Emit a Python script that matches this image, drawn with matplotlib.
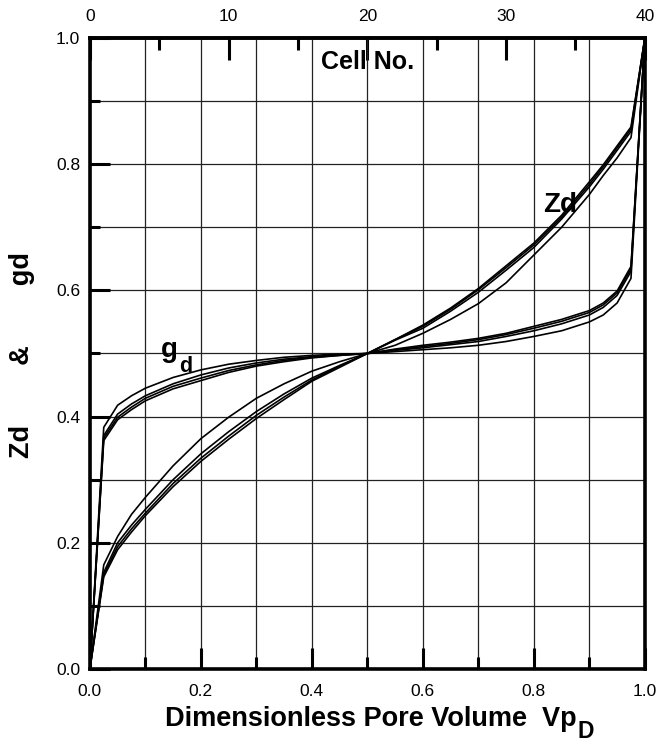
import matplotlib
matplotlib.use('Agg')
import matplotlib.pyplot as plt
from matplotlib.ticker import MultipleLocator

plt.rcParams['font.family'] = ['Liberation Sans', 'DejaVu Sans']

# dimensionless pore volume
vp = [0, 0.025, 0.05, 0.075, 0.1, 0.15, 0.2, 0.25, 0.3, 0.35, 0.4, 0.45, 0.5,
      0.55, 0.6, 0.65, 0.7, 0.75, 0.8, 0.85, 0.9, 0.925, 0.95, 0.975, 1.0]

zd_1 = [0, 0.165, 0.210, 0.245, 0.272, 0.322, 0.365, 0.399, 0.429, 0.452, 0.472, 0.487, 0.5,
        0.513, 0.532, 0.554, 0.579, 0.612, 0.656, 0.700, 0.752, 0.782, 0.810, 0.842, 1.0]
zd_2 = [0, 0.153, 0.200, 0.228, 0.253, 0.300, 0.341, 0.376, 0.408, 0.436, 0.461, 0.481, 0.5,
        0.521, 0.540, 0.567, 0.597, 0.632, 0.668, 0.713, 0.764, 0.792, 0.822, 0.852, 1.0]
zd_3 = [0, 0.149, 0.194, 0.222, 0.247, 0.294, 0.334, 0.369, 0.402, 0.431, 0.458, 0.480, 0.5,
        0.522, 0.543, 0.570, 0.601, 0.636, 0.672, 0.716, 0.768, 0.796, 0.826, 0.856, 1.0]
zd_4 = [0, 0.146, 0.189, 0.217, 0.243, 0.289, 0.329, 0.364, 0.397, 0.427, 0.456, 0.478, 0.5,
        0.522, 0.545, 0.572, 0.603, 0.639, 0.675, 0.719, 0.772, 0.799, 0.829, 0.859, 1.0]

gd_1 = [0, 0.383, 0.418, 0.433, 0.445, 0.462, 0.474, 0.483, 0.489, 0.494, 0.497, 0.499, 0.5,
        0.503, 0.506, 0.509, 0.513, 0.519, 0.527, 0.536, 0.550, 0.561, 0.580, 0.619, 1.0]
gd_2 = [0, 0.370, 0.404, 0.420, 0.433, 0.452, 0.466, 0.477, 0.485, 0.491, 0.495, 0.498, 0.5,
        0.505, 0.509, 0.514, 0.519, 0.527, 0.536, 0.547, 0.561, 0.573, 0.592, 0.630, 1.0]
gd_3 = [0, 0.366, 0.399, 0.415, 0.429, 0.448, 0.461, 0.473, 0.482, 0.489, 0.494, 0.497, 0.5,
        0.506, 0.511, 0.516, 0.522, 0.530, 0.540, 0.551, 0.565, 0.577, 0.596, 0.634, 1.0]
gd_4 = [0, 0.362, 0.395, 0.411, 0.425, 0.444, 0.457, 0.470, 0.480, 0.487, 0.493, 0.497, 0.5,
        0.507, 0.513, 0.518, 0.524, 0.532, 0.543, 0.554, 0.568, 0.580, 0.599, 0.638, 1.0]

n_cells = 40
cell_ticks = [0, 10, 20, 30, 40]

W, H = 656, 742
fig = plt.figure(figsize=(W / 100, H / 100), dpi=100)
ax = fig.add_axes([0.137, 0.0984, 0.846, 0.8504])

for zd in [zd_1, zd_2, zd_3, zd_4]:
    ax.plot(vp, zd, color='black', lw=1.2, zorder=3)
for gd in [gd_1, gd_2, gd_3, gd_4]:
    ax.plot(vp, gd, color='black', lw=1.2, zorder=3)

ax.set_xlim(0, 1)
ax.set_ylim(0, 1)
ax.xaxis.set_major_locator(MultipleLocator(0.2))
ax.xaxis.set_minor_locator(MultipleLocator(0.1))
ax.yaxis.set_major_locator(MultipleLocator(0.2))
ax.yaxis.set_minor_locator(MultipleLocator(0.1))
ax.xaxis.set_major_formatter(lambda v, p: '%.1f' % v)
ax.yaxis.set_major_formatter(lambda v, p: '%.1f' % v)
ax.grid(which='both', color='#222222', lw=0.9)
ax.set_axisbelow(True)

ax.tick_params(axis='x', which='major', direction='in', length=15, width=2.2,
               labelsize=12.5, pad=11, top=False)
ax.tick_params(axis='x', which='minor', direction='in', length=8.5, width=2.2, top=False)
ax.tick_params(axis='y', which='major', direction='in', length=14.5, width=2.2,
               labelsize=12.5, pad=7, right=False)
ax.tick_params(axis='y', which='minor', direction='in', length=7.5, width=2.2, right=False)
for s in ax.spines.values():
    s.set_linewidth(2.6)

secax = ax.secondary_xaxis('top', functions=(lambda v: v * n_cells, lambda c: c / n_cells))
secax.set_xticks(cell_ticks)
secax.xaxis.set_minor_locator(MultipleLocator(5))
secax.tick_params(which='major', direction='in', length=16, width=2.2, labelsize=12.5, pad=10)
secax.tick_params(which='minor', direction='in', length=8.5, width=2.2)
secax.spines['top'].set_linewidth(2.6)

ax.text(0.5, 0.981, 'Cell No.', transform=ax.transAxes, ha='center', va='top',
        fontsize=18, fontweight='bold')
ax.text(0.816, 0.724, 'Zd', fontsize=20, fontweight='bold', ha='left', va='baseline')

# labels with big subscripts, placed by hand after the main text
g_txt = ax.text(0.128, 0.494, 'g', fontsize=20, fontweight='bold', ha='left', va='baseline')
x_txt = fig.text(165 / W, 16 / H, 'Dimensionless Pore Volume  Vp', ha='left',
                 va='baseline', fontsize=19.5, fontweight='bold')
fig.canvas.draw()
r = fig.canvas.get_renderer()
bb = g_txt.get_window_extent(r)
fig.text(bb.x1 / W + 1 / W, (H - 372) / H, 'd', ha='left', va='baseline',
         fontsize=15.5, fontweight='bold')
bb = x_txt.get_window_extent(r)
fig.text(bb.x1 / W + 1 / W, 4 / H, 'D', ha='left', va='baseline',
         fontsize=16.5, fontweight='bold')

fig.text(0.0335, 0.5216, 'Zd        &        gd', rotation=90, ha='center', va='center',
         fontsize=19.5, fontweight='bold')

fig.savefig('out.png', dpi=100)
